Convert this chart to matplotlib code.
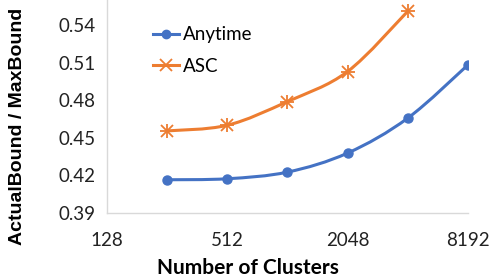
import numpy as np
import matplotlib
matplotlib.use("Agg")
import matplotlib.pyplot as plt
from matplotlib.path import Path
from matplotlib.patches import PathPatch
from matplotlib.lines import Line2D

plt.rcParams['font.family'] = ['Lato', 'DejaVu Sans']

clusters = [256, 512, 1024, 2048, 4096, 8192]
anytime = [0.4165, 0.4173, 0.4226, 0.4378, 0.4657, 0.5082]
asc_clusters = [256, 512, 1024, 2048, 4096]
asc = [0.4555, 0.4600, 0.4789, 0.5029, 0.5510]
xticks = [128, 512, 2048, 8192]
yticks = [0.39, 0.42, 0.45, 0.48, 0.51, 0.54]

blue = '#4472C4'
orange = '#ED7D31'


def smooth_path(xs, ys, ax):
    # catmull-rom style bezier through the points, built in display space
    pts = ax.transData.transform(np.column_stack([xs, ys]))
    verts = [pts[0]]
    codes = [Path.MOVETO]
    n = len(pts)
    for i in range(n - 1):
        p0 = pts[i - 1] if i > 0 else pts[i]
        p1 = pts[i]
        p2 = pts[i + 1]
        p3 = pts[i + 2] if i + 2 < n else pts[i + 1]
        c1 = p1 + (p2 - p0) / 6.0
        c2 = p2 - (p3 - p1) / 6.0
        verts += [c1, c2, p2]
        codes += [Path.CURVE4] * 3
    return Path(verts, codes)


fig = plt.figure(figsize=(4.9, 2.78), dpi=100)
ax = fig.add_axes([0.218, 0.234, 0.737, 0.766])
ax.set_xscale('log', base=2)
ax.set_xlim(128, 8192)
ax.set_ylim(0.39, 0.56)

for xs, ys, col in [(clusters, anytime, blue), (asc_clusters, asc, orange)]:
    path = smooth_path(xs, ys, ax)
    ax.add_patch(PathPatch(path, transform=None, facecolor='none', edgecolor=col, lw=2.2))

ax.plot(clusters, anytime, 'o', color=blue, ms=6.5)
ax.plot(asc_clusters, asc, 'x', color=orange, ms=8, mew=1.3)
ax.plot(asc_clusters, asc, '+', color=orange, ms=10, mew=1.3)

ax.set_xticks(xticks)
ax.set_xticklabels([str(t) for t in xticks])
ax.set_yticks(yticks)
ax.set_yticklabels(['%.2f' % t for t in yticks])
ax.minorticks_off()
ax.tick_params(length=0, labelsize=13.5, colors='#222222', pad=8)
ax.tick_params(axis='x', pad=14)

for s in ['top', 'right']:
    ax.spines[s].set_visible(False)
for s in ['left', 'bottom']:
    ax.spines[s].set_color('#d9d9d9')
    ax.spines[s].set_linewidth(1)

ax.set_xlabel('Number of Clusters', fontsize=15, fontweight='bold')
ax.xaxis.set_label_coords(0.39, -0.258)
ax.xaxis.label.set_va('center')
ax.set_ylabel('ActualBound / MaxBound', fontsize=14, fontweight='bold',
              family=['Liberation Sans', 'DejaVu Sans'])
ax.yaxis.set_label_coords(-0.246, 0.408)
ax.yaxis.label.set_va('center')

handles = [
    Line2D([], [], color=blue, lw=2.2, marker='o', ms=6),
    Line2D([], [], color=orange, lw=2.2, marker='x', ms=8, mew=1.3),
]
ax.legend(handles, ['Anytime', 'ASC'], loc='upper left', bbox_to_anchor=(0.08, 0.955),
          frameon=False, fontsize=13.5, handlelength=1.4, handletextpad=0.2,
          labelspacing=0.75)

fig.savefig('out.png', dpi=100)
